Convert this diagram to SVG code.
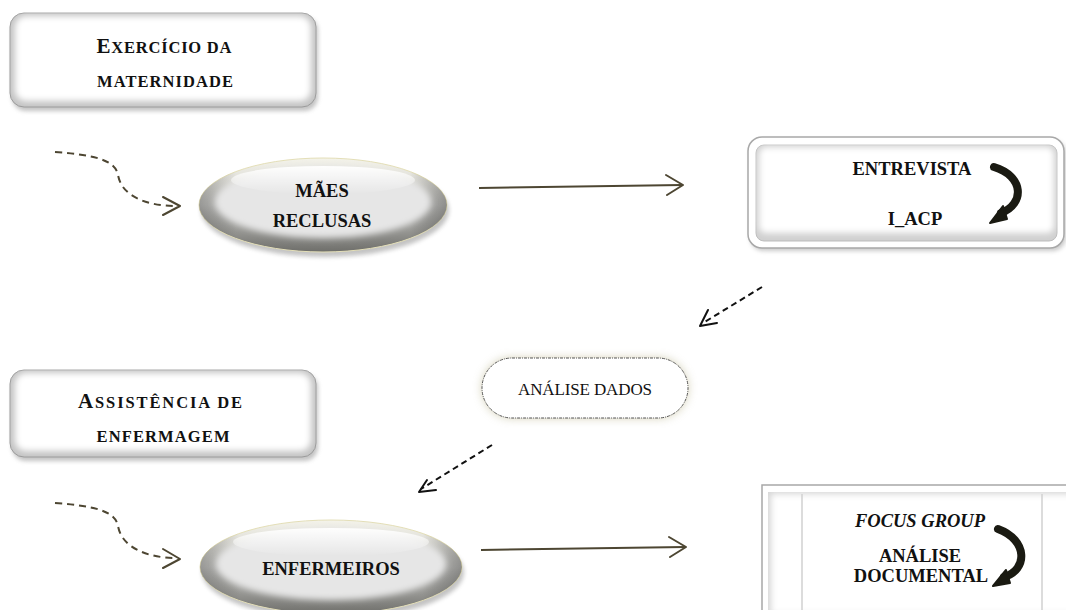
<svg xmlns="http://www.w3.org/2000/svg" width="1066" height="610" viewBox="0 0 1066 610">
<defs>
<style>
.t{font-family:"Liberation Serif","Times New Roman",serif;fill:#111;text-anchor:middle}
.b{font-weight:bold;font-size:18.5px}
.sc{font-weight:bold}
.con{fill:none;stroke:#4d4632;stroke-width:2}
.dash{fill:none;stroke:#4d4632;stroke-width:2;stroke-dasharray:7 5}
.ddash{fill:none;stroke:#111;stroke-width:2;stroke-dasharray:6 4}
.head{fill:none;stroke-width:2;stroke-linecap:round;stroke-linejoin:round}
.curv{fill:none;stroke:#1a1a12;stroke-width:8;stroke-linecap:round}
</style>
<filter id="soft" x="-10%" y="-10%" width="120%" height="120%"><feGaussianBlur stdDeviation="3"/></filter>
<filter id="shadow" x="-10%" y="-10%" width="120%" height="130%"><feGaussianBlur stdDeviation="2"/></filter>
<filter id="glow" x="-20%" y="-40%" width="140%" height="180%"><feGaussianBlur stdDeviation="5"/></filter>
<linearGradient id="ellOuter" x1="0" y1="0" x2="0" y2="1">
<stop offset="0" stop-color="#f4f3ea"/>
<stop offset="0.5" stop-color="#c9c9c6"/>
<stop offset="1" stop-color="#6e6e6a"/>
</linearGradient>
<linearGradient id="ellSide" x1="0" y1="0" x2="1" y2="0">
<stop offset="0" stop-color="#000" stop-opacity="0.25"/>
<stop offset="0.15" stop-color="#000" stop-opacity="0"/>
<stop offset="0.85" stop-color="#000" stop-opacity="0"/>
<stop offset="1" stop-color="#000" stop-opacity="0.3"/>
</linearGradient>
<linearGradient id="hl" x1="0" y1="0" x2="0" y2="1">
<stop offset="0" stop-color="#fff" stop-opacity="0.95"/>
<stop offset="1" stop-color="#fff" stop-opacity="0"/>
</linearGradient>
</defs>

<g id="connectors">
<path class="dash" d="M55,152 C95,155 115,160 118,175 C122,198 150,206 176,206"/>
<path class="head" stroke="#4d4632" d="M163,197 L180,206 L163,215"/>
<path class="dash" d="M55,503 C95,506 115,511 118,526 C122,549 150,558 176,558"/>
<path class="head" stroke="#4d4632" d="M163,549 L180,559 L163,568"/>
<path class="con" d="M479,188 L682,185"/>
<path class="head" stroke="#4d4632" d="M666,175 L683,185 L667,195"/>
<path class="con" d="M481,550 L685,547"/>
<path class="head" stroke="#4d4632" d="M669,537 L686,547 L670,557"/>
<path class="ddash" d="M762,287 L703,323"/>
<path class="head" stroke="#111" d="M708,310 L700,326 L717,323"/>
<path class="ddash" d="M492,445 L421,489"/>
<path class="head" stroke="#111" d="M427,480 L419,492 L436,490"/>
</g>

<g id="node-exercicio">
<rect x="12" y="17" width="306" height="94" rx="14" fill="#888" opacity="0.5" filter="url(#shadow)"/>
<rect x="10" y="13" width="306" height="94" rx="14" fill="#c4c4c4" stroke="#9a9a9a" stroke-width="1"/>
<rect x="15" y="16" width="296" height="85" rx="11" fill="#fff" filter="url(#soft)"/>
<text class="t sc" x="164" y="53" textLength="135" lengthAdjust="spacing"><tspan font-size="21">E</tspan><tspan font-size="16.5">XERCÍCIO DA</tspan></text>
<text class="t sc" x="165" y="87" font-size="16.5" textLength="136" lengthAdjust="spacing">MATERNIDADE</text>
</g>

<g id="node-assistencia">
<rect x="12" y="374" width="306" height="87" rx="14" fill="#888" opacity="0.5" filter="url(#shadow)"/>
<rect x="10" y="370" width="306" height="87" rx="14" fill="#c4c4c4" stroke="#9a9a9a" stroke-width="1"/>
<rect x="15" y="373" width="296" height="78" rx="11" fill="#fff" filter="url(#soft)"/>
<text class="t sc" x="160" y="408" textLength="164" lengthAdjust="spacing"><tspan font-size="21">A</tspan><tspan font-size="16.5">SSISTÊNCIA DE</tspan></text>
<text class="t sc" x="163" y="442" font-size="16.5" textLength="133" lengthAdjust="spacing">ENFERMAGEM</text>
</g>

<g id="node-maes">
<ellipse cx="325" cy="210" rx="124" ry="47" fill="#555" opacity="0.35" filter="url(#shadow)"/>
<ellipse cx="323" cy="205" rx="124" ry="47" fill="url(#ellOuter)" stroke="#e4dfb8" stroke-width="1"/>
<ellipse cx="323" cy="205" rx="124" ry="47" fill="url(#ellSide)"/>
<ellipse cx="323" cy="202" rx="108" ry="36" fill="#e6e6e6" filter="url(#soft)"/>
<ellipse cx="323" cy="180" rx="92" ry="14" fill="url(#hl)"/>
<text class="t b" x="322" y="197">MÃES</text>
<text class="t b" x="322" y="227">RECLUSAS</text>
</g>

<g id="node-enfermeiros">
<ellipse cx="333" cy="572" rx="131" ry="47" fill="#555" opacity="0.35" filter="url(#shadow)"/>
<ellipse cx="331" cy="567" rx="131" ry="47" fill="url(#ellOuter)" stroke="#e4dfb8" stroke-width="1"/>
<ellipse cx="331" cy="567" rx="131" ry="47" fill="url(#ellSide)"/>
<ellipse cx="331" cy="564" rx="115" ry="36" fill="#e6e6e6" filter="url(#soft)"/>
<ellipse cx="331" cy="542" rx="98" ry="14" fill="url(#hl)"/>
<text class="t b" x="331" y="575">ENFERMEIROS</text>
</g>

<g id="node-entrevista">
<rect x="750" y="140" width="316" height="111" rx="14" fill="#888" opacity="0.45" filter="url(#shadow)"/>
<rect x="748" y="137" width="316" height="111" rx="14" fill="#fff" stroke="#a8a8a8" stroke-width="1.5"/>
<rect x="756" y="145" width="301" height="96" rx="8" fill="#d0d0d0" stroke="#bdbdbd" stroke-width="1"/>
<rect x="759" y="147" width="295" height="86" rx="7" fill="#fff" filter="url(#soft)"/>
<text class="t b" x="912" y="175">ENTREVISTA</text>
<text class="t b" x="915" y="225">I_ACP</text>
<path class="curv" d="M994,167 C1024,176 1025,204 1001,213"/>
<path d="M1003,206 L1007,219 L990,223 Z" fill="#1a1a12" stroke="#1a1a12" stroke-width="2" stroke-linejoin="round"/>
</g>

<g id="node-analise">
<rect x="482" y="358" width="206" height="60" rx="30" fill="#c9c4a4" opacity="0.8" filter="url(#glow)"/>
<rect x="482" y="358" width="206" height="60" rx="30" fill="#fff" stroke="#555" stroke-width="1" stroke-dasharray="3 1 1 1"/>
<text class="t" x="585" y="395" font-size="17" textLength="134" lengthAdjust="spacing">ANÁLISE DADOS</text>
</g>

<g id="node-focus">
<rect x="762" y="485" width="320" height="130" fill="#fff" stroke="#a8a8a8" stroke-width="1.5"/>
<rect x="768" y="492" width="308" height="120" fill="#d6d6d6"/>
<rect x="771" y="494" width="302" height="120" fill="#fff" filter="url(#soft)"/>
<line x1="802" y1="494" x2="802" y2="610" stroke="#d0d0d0" stroke-width="1.5"/>
<line x1="1042" y1="494" x2="1042" y2="610" stroke="#d0d0d0" stroke-width="1.5"/>
<text class="t b" x="920" y="527" font-style="italic">FOCUS GROUP</text>
<text class="t b" x="920" y="562">ANÁLISE</text>
<text class="t b" x="921" y="582">DOCUMENTAL</text>
<path class="curv" d="M998,529 C1028,540 1028,570 1004,577"/>
<path d="M1006,570 L1010,583 L993,586 Z" fill="#1a1a12" stroke="#1a1a12" stroke-width="2" stroke-linejoin="round"/>
</g>
</svg>
